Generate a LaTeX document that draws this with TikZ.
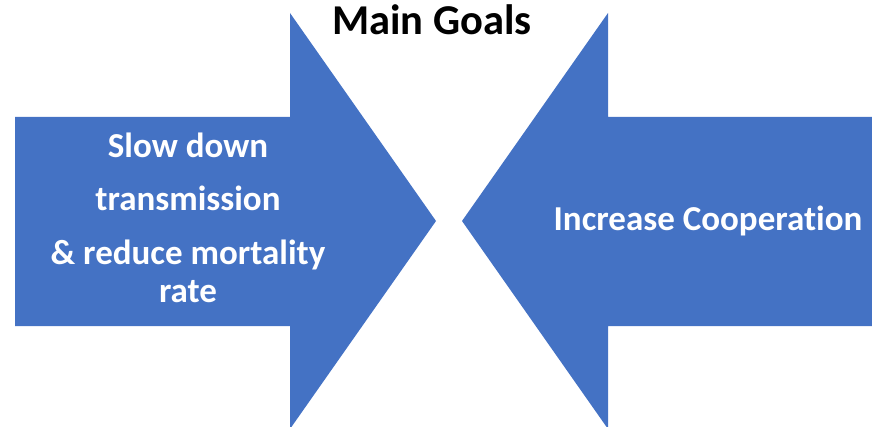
\documentclass[tikz,border=0pt]{standalone}
\usepackage{fontspec}
\setmainfont{Carlito}[Ligatures=NoCommon]
\usepackage{tikz}
\definecolor{goalblue}{HTML}{4472C4}

\begin{document}
\begin{tikzpicture}[
    x=1pt, y=-1pt,
    goal arrow/.style={fill=goalblue, draw=none},
    goal text/.style={anchor=base, text=white, font=\fontsize{35}{42}\selectfont\bfseries},
    title text/.style={anchor=base, text=black, font=\fontsize{42.5}{50}\selectfont\bfseries}
    ]
    \useasboundingbox (0,0) rectangle (872,427);
    \clip (0,0) rectangle (872,427);
    % Arrows
    \fill[goal arrow] (15,117) -- (290,117) -- (290,13) -- (436,221)
        -- (290,429) -- (290,326) -- (15,326) -- cycle;
    \fill[goal arrow] (872,117) -- (608,117) -- (608,13) -- (462,221)
        -- (608,429) -- (608,326) -- (872,326) -- cycle;
    % Title
    \node[title text] (title) at (432,35) {Main Goals};
    % Left text
    \node[goal text] (slow) at (188,158) {Slow down};
    \node[goal text] (trans) at (188,211) {transmission};
    \node[goal text] (reduce) at (188,265) {\& reduce mortality};
    \node[goal text] (rate) at (188,303) {rate};
    % Right text
    \node[goal text] (coop) at (708,231) {Increase Cooperation};
\end{tikzpicture}
\end{document}
